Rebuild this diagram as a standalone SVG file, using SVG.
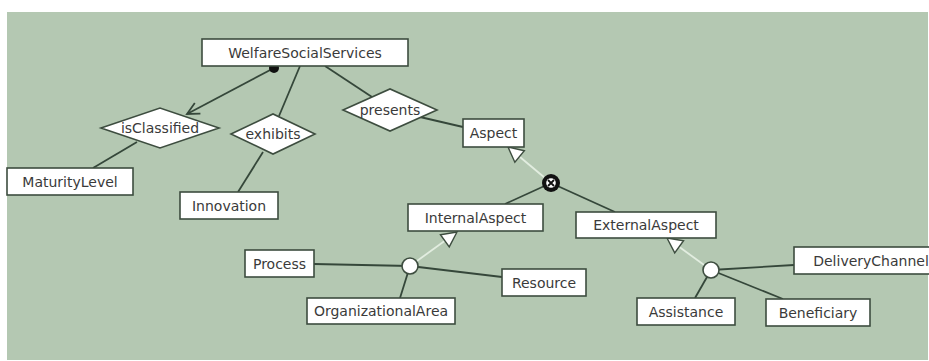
<svg xmlns="http://www.w3.org/2000/svg" xmlns:xlink="http://www.w3.org/1999/xlink" width="929" height="361" viewBox="0 0 929 361">
<style>
.box{fill:#ffffff;stroke:#3d4d3f;stroke-width:1.6}
.dia{fill:#ffffff;stroke:#3d4d3f;stroke-width:1.6}
.t{font-family:"DejaVu Sans",Verdana,sans-serif;font-size:14px;fill:#3a3a3a;text-anchor:middle}
.c{stroke:#35473a;stroke-width:1.8;fill:none}
.lt{stroke:#e2ede0;stroke-width:1.8;fill:none}
.tri{fill:#ffffff;stroke:#3d4d3f;stroke-width:1.4}
.hc{fill:#ffffff;stroke:#3d4d3f;stroke-width:1.6}
</style>
<defs>
<polygon id="gen" points="0,0 -15,-7.5 -15,7.5" class="tri"/>
</defs>
<rect x="0" y="0" width="929" height="361" fill="#ffffff"/>
<rect x="7" y="12" width="921" height="348" fill="#b4c8b2"/>
<g id="connectors">
<line class="c" x1="274" y1="68" x2="187" y2="114"/>
<path class="c" d="M-12,-6 L0,0 L-12,6" transform="translate(187,114) rotate(152.1)"/>
<circle cx="274" cy="68" r="5" fill="#111"/>
<line class="c" x1="137" y1="142" x2="93" y2="168"/>
<line class="c" x1="300" y1="66" x2="279" y2="116"/>
<line class="c" x1="263" y1="152" x2="238" y2="192"/>
<line class="c" x1="325" y1="66" x2="372" y2="97"/>
<line class="c" x1="390" y1="110" x2="463" y2="127"/>
<line class="c" x1="551" y1="183" x2="505" y2="204"/>
<line class="c" x1="551" y1="183" x2="615" y2="212"/>
<line class="lt" x1="551" y1="183" x2="508" y2="147"/>
<use xlink:href="#gen" transform="translate(508,147) rotate(219.3)"/>
<circle cx="551" cy="183" r="9" fill="#111"/>
<circle cx="551" cy="183" r="4.8" fill="#ffffff"/>
<path d="M548,180 L554,186 M554,180 L548,186" stroke="#111" stroke-width="1.8"/>
<line class="c" x1="314" y1="264" x2="410" y2="266"/>
<line class="c" x1="410" y1="266" x2="502" y2="277"/>
<line class="c" x1="410" y1="266" x2="400" y2="298"/>
<line class="lt" x1="410" y1="266" x2="457" y2="232"/>
<use xlink:href="#gen" transform="translate(457,232) rotate(-35.9)"/>
<circle class="hc" cx="410" cy="266" r="8"/>
<line class="c" x1="711" y1="270" x2="794" y2="265"/>
<line class="c" x1="711" y1="270" x2="695" y2="298"/>
<line class="c" x1="711" y1="270" x2="783" y2="299"/>
<line class="lt" x1="711" y1="270" x2="667" y2="238"/>
<use xlink:href="#gen" transform="translate(667,238) rotate(216)"/>
<circle class="hc" cx="711" cy="270" r="8"/>
</g>
<g id="WelfareSocialServices"><rect class="box" x="202" y="39" width="206" height="27"/><text class="t" x="305" y="57.5">WelfareSocialServices</text></g>
<g id="isClassified"><polygon class="dia" points="101,128 160,108 219,128 160,148"/><text class="t" x="160" y="133">isClassified</text></g>
<g id="exhibits"><polygon class="dia" points="231,134 273,114 315,134 273,154"/><text class="t" x="273" y="139">exhibits</text></g>
<g id="presents"><polygon class="dia" points="343,110 390,89 437,110 390,131"/><text class="t" x="390" y="115">presents</text></g>
<g id="MaturityLevel"><rect class="box" x="7" y="168" width="126" height="27"/><text class="t" x="70" y="186.5">MaturityLevel</text></g>
<g id="Innovation"><rect class="box" x="180" y="192" width="98" height="27"/><text class="t" x="229" y="210.5">Innovation</text></g>
<g id="Aspect"><rect class="box" x="463" y="119" width="61" height="28"/><text class="t" x="493.5" y="138">Aspect</text></g>
<g id="InternalAspect"><rect class="box" x="408" y="204" width="135" height="27"/><text class="t" x="475.5" y="222.5">InternalAspect</text></g>
<g id="ExternalAspect"><rect class="box" x="576" y="212" width="140" height="26"/><text class="t" x="646" y="230">ExternalAspect</text></g>
<g id="Process"><rect class="box" x="245" y="250" width="69" height="27"/><text class="t" x="279.5" y="268.5">Process</text></g>
<g id="OrganizationalArea"><rect class="box" x="307" y="298" width="148" height="26"/><text class="t" x="381" y="316">OrganizationalArea</text></g>
<g id="Resource"><rect class="box" x="502" y="269" width="84" height="27"/><text class="t" x="544" y="287.5">Resource</text></g>
<g id="Assistance"><rect class="box" x="637" y="298" width="98" height="27"/><text class="t" x="686" y="316.5">Assistance</text></g>
<g id="Beneficiary"><rect class="box" x="766" y="299" width="104" height="27"/><text class="t" x="818" y="317.5">Beneficiary</text></g>
<g id="DeliveryChannel"><rect class="box" x="794" y="247" width="154" height="27"/><text class="t" x="871" y="265.5">DeliveryChannel</text></g>
</svg>
